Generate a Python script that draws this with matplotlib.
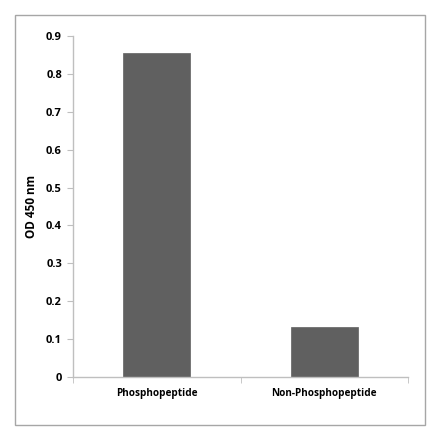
import matplotlib
matplotlib.use('Agg')
import matplotlib.pyplot as plt
import matplotlib.patches as mpatches
import numpy as np

categories = ['Phosphopeptide', 'Non-Phosphopeptide']
od_values = [0.856, 0.133]
y_ticks = [0, 0.1, 0.2, 0.3, 0.4, 0.5, 0.6, 0.7, 0.8, 0.9]
y_tick_labels = ['0', '0.1', '0.2', '0.3', '0.4', '0.5', '0.6', '0.7', '0.8', '0.9']

plt.rcParams['font.family'] = ['Open Sans', 'DejaVu Sans']
plt.rcParams['font.weight'] = 'bold'

fig = plt.figure(figsize=(4.40, 4.41), dpi=100)
ax = fig.add_axes([73 / 440, 1 - 377 / 441, (408 - 73) / 440, (377 - 36) / 441])

# outer chart border
fig.patches.append(mpatches.Rectangle((15 / 440, 1 - 425 / 441), 410 / 440, 410 / 441,
                                      transform=fig.transFigure, fill=False,
                                      edgecolor='#a6a6a6', linewidth=1.0))

x = np.arange(len(categories))
ax.bar(x, od_values, width=0.4, color='#606060', edgecolor='#606060', linewidth=0.5)

ax.set_xlim(-0.5, len(categories) - 0.5)
ax.set_ylim(0, 0.9)
ax.set_yticks(y_ticks)
ax.set_yticklabels(y_tick_labels, fontsize=8, fontweight='bold')
ax.set_xticks(x)
ax.set_xticklabels(categories, fontsize=7.2, fontweight='bold')
ax.set_xticks(np.arange(len(categories) + 1) - 0.5, minor=True)
ax.tick_params(axis='x', which='major', length=0, pad=8)
ax.tick_params(axis='x', which='minor', length=4, color='#bfbfbf', direction='out')
ax.tick_params(axis='y', length=4, color='#bfbfbf', direction='out', pad=4)

for side in ['top', 'right']:
    ax.spines[side].set_visible(False)
for side in ['left', 'bottom']:
    ax.spines[side].set_color('#bfbfbf')
    ax.spines[side].set_linewidth(1.0)

ax.set_ylabel('OD 450 nm', fontsize=8.5, fontweight='bold', labelpad=6)

fig.savefig('out.png', dpi=100)
